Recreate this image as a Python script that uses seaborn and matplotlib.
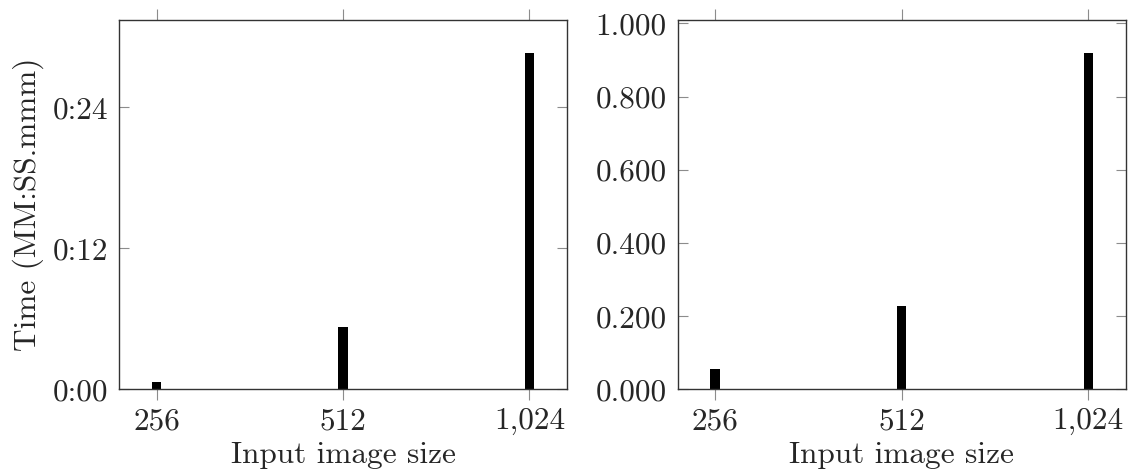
import matplotlib
matplotlib.use("Agg")
import matplotlib.pyplot as plt
import matplotlib.ticker as mticker
import seaborn as sns
import pandas as pd

# ---- data ----
sizes = ["256", "512", "1,024"]
time_seconds = [0.62, 5.30, 28.65]
right_values = [0.055, 0.228, 0.920]
left_yticks = [0, 12, 24]
right_yticks = [0.0, 0.2, 0.4, 0.6, 0.8, 1.0]
xlabel = "Input image size"
ylabel_left = "Time (MM:SS.mmm)"

sns.set_theme(style="ticks")
plt.rcParams["font.family"] = ["cmr10", "DejaVu Serif"]
plt.rcParams["axes.unicode_minus"] = False

FS = 22.5
fig = plt.figure(figsize=(11.31, 4.71), dpi=100)
ax1 = fig.add_axes([0.1055, 0.1735, 0.5011 - 0.1055, 0.9575 - 0.1735])
ax2 = fig.add_axes([0.5992, 0.1735, 0.9953 - 0.5992, 0.9575 - 0.1735])

df_left = pd.DataFrame({"size": sizes, "value": time_seconds})
df_right = pd.DataFrame({"size": sizes, "value": right_values})

sns.barplot(data=df_left, x="size", y="value", order=sizes, color="black",
            width=0.05, linewidth=0, saturation=1, ax=ax1)
sns.barplot(data=df_right, x="size", y="value", order=sizes, color="black",
            width=0.05, linewidth=0, saturation=1, ax=ax2)

def mmss(v, pos):
    v = int(round(v))
    return f"{v // 60}:{v % 60:02d}"

for ax, vals in ((ax1, time_seconds), (ax2, right_values)):
    ax.set_xlim(-0.2, 2.2)
    ax.set_ylim(0, max(vals) * 1.097)
    for s in ax.spines.values():
        s.set_visible(True)
        s.set_color("#333333")
        s.set_linewidth(1.0)
    ax.tick_params(axis="x", which="both", direction="out", length=8, width=0.8,
                   color="#8c8c8c", top=True, bottom=True, labeltop=False,
                   labelsize=FS, pad=5)
    ax.tick_params(axis="y", which="both", direction="in", length=7.5, width=0.8,
                   color="#8c8c8c", left=True, right=True, labelright=False,
                   labelsize=FS, pad=8)
    ax.set_xlabel(xlabel, fontsize=FS, labelpad=4)
    ax.set_facecolor("white")

ax1.set_yticks(left_yticks)
ax1.yaxis.set_major_formatter(mticker.FuncFormatter(mmss))
ax1.set_ylabel(ylabel_left, fontsize=FS, labelpad=6)

ax2.set_yticks(right_yticks)
ax2.yaxis.set_major_formatter(mticker.FormatStrFormatter("%.3f"))
ax2.set_ylabel("")

fig.savefig("out.png", dpi=100, facecolor="white")
